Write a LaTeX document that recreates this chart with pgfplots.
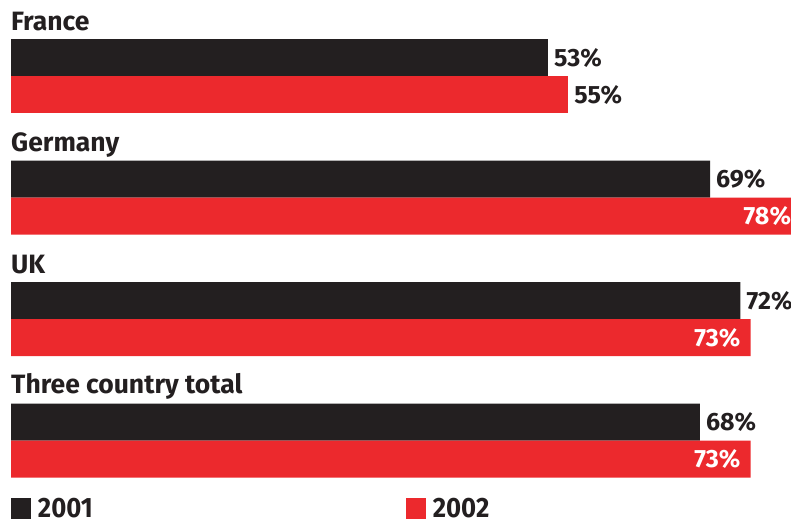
\documentclass[border=0pt]{standalone}
\usepackage{pgfplots}
\pgfplotsset{compat=1.18}
\usepackage{graphicx}
\usepackage{fontspec}
\setmainfont{Fira Sans}
\definecolor{cblack}{HTML}{231F20}
\definecolor{cred}{HTML}{EC292D}
\begin{document}
\begin{tikzpicture}
\useasboundingbox (0,0) rectangle (791pt,525pt);
\begin{axis}[
  at={(11pt,0pt)}, anchor=south west,
  scale only axis, width=800.3pt, height=525pt,
  xmin=0, xmax=79, ymin=0, ymax=525, y dir=reverse,
  hide axis,
  clip mode=individual,
  xbar, bar width=37, bar shift=0pt,
  point meta=x,
  /pgf/number format/assume math mode=true,
  nodes near coords={\pgfmathprintnumber{\pgfplotspointmeta}\%},
  legend columns=2,
  legend style={draw=none, fill=none, inner sep=0pt, outer sep=0pt,
    at={(0,0.0305)}, anchor=west,
    column sep=7pt,
    /tikz/every even column/.append style={column sep=313pt},
    nodes={inner sep=0pt, text=cblack, font=\bfseries\fontsize{28}{28}\selectfont}},
]
\addplot[fill=cblack, draw=none,
  legend image code/.code={\fill[cblack] (0pt,-10.5pt) rectangle (20pt,10.5pt);},
  every node near coord/.append style={anchor=west, xshift=6pt, inner sep=0pt,
    text=cblack, font=\bfseries\fontsize{25}{25}\selectfont}]
  coordinates {(53,57.5) (69,179) (72,300.5) (68,422)};
\addlegendentry{\scalebox{0.92}[1]{2001}}
\addplot[fill=cred, draw=none,
  legend image code/.code={\fill[cred] (0pt,-10.5pt) rectangle (20pt,10.5pt);},
  every node near coord/.append style={anchor=east, xshift=-10pt, inner sep=0pt,
    text=white, font=\bfseries\fontsize{25}{25}\selectfont}]
  coordinates {(78,216) (73,337.5) (73,459)};
\addlegendentry{\scalebox{0.92}[1]{2002}}
\addplot[fill=cred, draw=none, forget plot,
  every node near coord/.append style={anchor=west, xshift=6pt, inner sep=0pt,
    text=cblack, font=\bfseries\fontsize{25}{25}\selectfont}]
  coordinates {(55,94.5)};
\node[anchor=base west, inner sep=0pt, text=cblack, font=\bfseries\fontsize{26.5}{26.5}\selectfont] at (axis cs:0,30) {France};
\node[anchor=base west, inner sep=0pt, text=cblack, font=\bfseries\fontsize{26.5}{26.5}\selectfont] at (axis cs:0,151) {Germany};
\node[anchor=base west, inner sep=0pt, text=cblack, font=\bfseries\fontsize{26.5}{26.5}\selectfont] at (axis cs:0,273) {UK};
\node[anchor=base west, inner sep=0pt, text=cblack, font=\bfseries\fontsize{26.5}{26.5}\selectfont] at (axis cs:0,393) {Three country total};
\end{axis}
\end{tikzpicture}
\end{document}
